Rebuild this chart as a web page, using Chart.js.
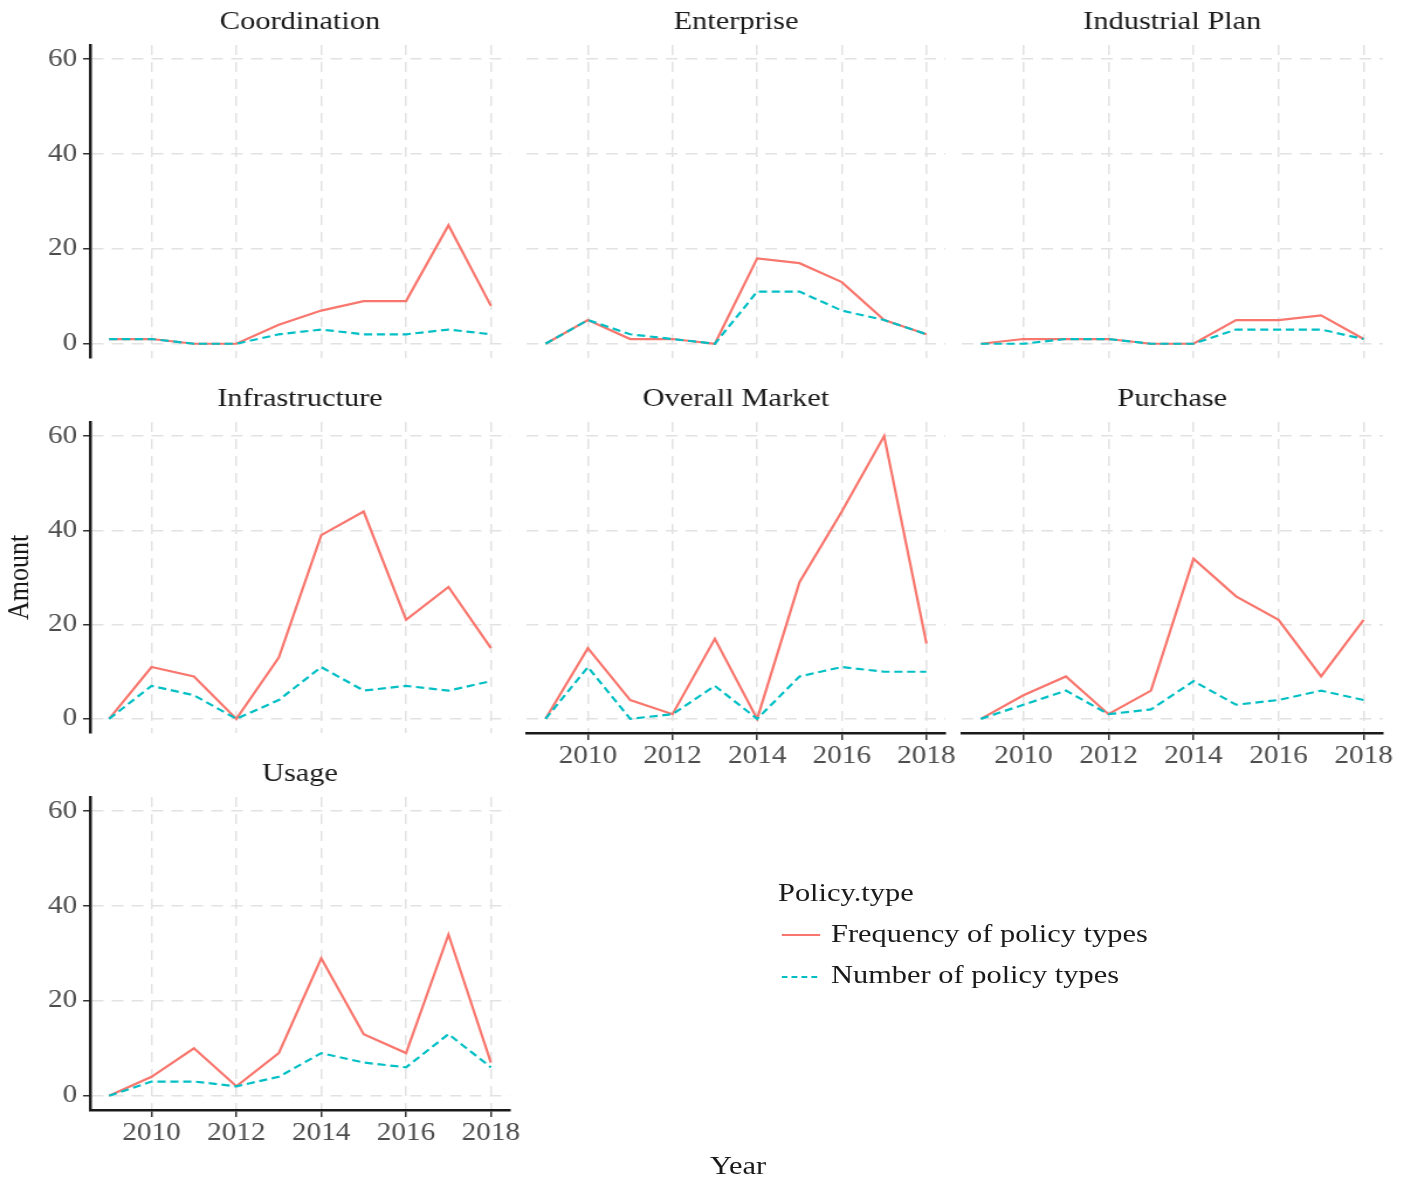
<!DOCTYPE html>
<html>
<head>
<meta charset="utf-8">
<script src="https://cdn.jsdelivr.net/npm/chart.js@4.4.0/dist/chart.umd.min.js"></script>
<style>
  html, body { margin: 0; background: #fff; }
  /* the whole figure is drawn narrow and stretched sideways */
  #page {
    position: relative; width: 1200px; height: 1181px;
    transform: scaleX(1.17); transform-origin: 0 0;
    font-family: "Liberation Serif", "Times New Roman", serif;
  }
  #page canvas { position: absolute; }
  .txt { position: absolute; color: #1a1a1a; font-size: 26px; line-height: 26px; white-space: nowrap; }
</style>
</head>
<body>
<div id="page">
  <div class="txt" id="xtitle" style="left:630.8px; top:1153px; transform:translateX(-50%);">Year</div>
</div>
<script>
const years = [2009, 2010, 2011, 2012, 2013, 2014, 2015, 2016, 2017, 2018];
const xTicks = [2010, 2012, 2014, 2016, 2018];
const yTicks = [0, 20, 40, 60];
const legendTitle = 'Policy.type';
const seriesNames = ['Frequency of policy types', 'Number of policy types'];
const facetNames = ['Coordination', 'Enterprise', 'Industrial Plan', 'Infrastructure', 'Overall Market', 'Purchase', 'Usage'];

const coordinationFreq = [1, 1, 0, 0, 4, 7, 9, 9, 25, 8];
const coordinationNum = [1, 1, 0, 0, 2, 3, 2, 2, 3, 2];
const enterpriseFreq = [0, 5, 1, 1, 0, 18, 17, 13, 5, 2];
const enterpriseNum = [0, 5, 2, 1, 0, 11, 11, 7, 5, 2];
const industrialFreq = [0, 1, 1, 1, 0, 0, 5, 5, 6, 1];
const industrialNum = [0, 0, 1, 1, 0, 0, 3, 3, 3, 1];
const infrastructureFreq = [0, 11, 9, 0, 13, 39, 44, 21, 28, 15];
const infrastructureNum = [0, 7, 5, 0, 4, 11, 6, 7, 6, 8];
const marketFreq = [0, 15, 4, 1, 17, 0, 29, 44, 60, 16];
const marketNum = [0, 11, 0, 1, 7, 0, 9, 11, 10, 10];
const purchaseFreq = [0, 5, 9, 1, 6, 34, 26, 21, 9, 21];
const purchaseNum = [0, 3, 6, 1, 2, 8, 3, 4, 6, 4];
const usageFreq = [0, 4, 10, 2, 9, 29, 13, 9, 34, 7];
const usageNum = [0, 3, 3, 2, 4, 9, 7, 6, 13, 6];

const facetFreq = [coordinationFreq, enterpriseFreq, industrialFreq, infrastructureFreq, marketFreq, purchaseFreq, usageFreq];
const facetNum = [coordinationNum, enterpriseNum, industrialNum, infrastructureNum, marketNum, purchaseNum, usageNum];

const S = 1.17;
const FONT = '"Liberation Serif", "Times New Roman", serif';
const RED = '#F8766D';
const CYAN = '#00BFC4';
const GRID = '#e2e2e2';

// facet grid geometry (panel edges)
const colLeft = [90, 527, 962].map(v => v / S);
const colRight = [510, 946, 1383].map(v => v / S);
const rowTop = [45, 422, 797];
const rowBottom = [358, 733, 1110];

// ggplot-style 5% expansion on both axes, shared by all facets
const allValues = facetFreq.concat(facetNum).flat();
const yMax = Math.max(...allValues);
const yPad = 0.05 * yMax;
const xPad = 0.05 * (years[years.length - 1] - years[0]);

const page = document.getElementById('page');

function drawPanel(i) {
  const row = Math.floor(i / 3), col = i % 3;
  const hasY = col === 0;
  const hasX = i + 3 >= facetNames.length;
  const titleH = 36;
  const padL = hasY ? 0 : 10;
  const padB = hasX ? 4 : 20;
  const yAxisW = hasY ? colLeft[0] : 0;
  const xAxisH = hasX ? 50 : 0;
  const left = hasY ? 0 : colLeft[col] - padL;
  const top = rowTop[row] - titleH;

  const canvas = document.createElement('canvas');
  canvas.width = Math.ceil(colRight[col] - left + 30);
  canvas.height = rowBottom[row] + xAxisH + padB - top;
  const padR = canvas.width - (colRight[col] - left);
  canvas.style.left = left + 'px';
  canvas.style.top = top + 'px';
  page.appendChild(canvas);

  new Chart(canvas, {
    type: 'line',
    data: {
      datasets: [{
        label: seriesNames[0],
        data: years.map((x, k) => ({ x: x, y: facetFreq[i][k] })),
        borderColor: RED,
        borderWidth: 2.2,
        pointRadius: 0,
        tension: 0,
        order: 1,
      }, {
        label: seriesNames[1],
        data: years.map((x, k) => ({ x: x, y: facetNum[i][k] })),
        borderColor: CYAN,
        borderWidth: 2.2,
        borderDash: [7, 4],
        pointRadius: 0,
        tension: 0,
        order: 0,
      }],
    },
    options: {
      responsive: false,
      animation: false,
      layout: { padding: { left: padL, right: padR, top: 0, bottom: padB } },
      plugins: {
        legend: { display: false },
        tooltip: { enabled: false },
        title: {
          display: true,
          text: facetNames[i],
          fullSize: false,
          color: '#1a1a1a',
          font: { family: FONT, size: 26, weight: 'normal', lineHeight: 1 },
          padding: { top: 0, bottom: 10 },
        },
      },
      scales: {
        x: {
          type: 'linear',
          min: years[0] - xPad,
          max: years[years.length - 1] + xPad,
          afterBuildTicks: s => { s.ticks = xTicks.map(v => ({ value: v })); },
          afterFit: s => { s.height = xAxisH; },
          grid: { color: GRID, lineWidth: 1.5, drawTicks: hasX, tickLength: 7, tickColor: '#333', tickWidth: 1.5, tickBorderDash: [] },
          border: { display: hasX, color: '#1a1a1a', width: 2.5, dash: [10, 7] },
          ticks: {
            display: hasX, color: '#4d4d4d', padding: 1, maxRotation: 0, autoSkip: false,
            font: { family: FONT, size: 25 },
            callback: v => String(v),
          },
        },
        y: {
          min: -yPad,
          max: yMax + yPad,
          afterBuildTicks: s => { s.ticks = yTicks.map(v => ({ value: v })); },
          afterFit: s => { s.width = yAxisW; },
          grid: { color: GRID, lineWidth: 1.5, drawTicks: hasY, tickLength: 6, tickColor: '#333', tickWidth: 1.5, tickBorderDash: [] },
          border: { display: hasY, color: '#1a1a1a', width: 2.5, dash: [10, 7] },
          ticks: {
            display: hasY, color: '#4d4d4d', padding: 5,
            font: { family: FONT, size: 25 },
            callback: v => String(v),
          },
          title: {
            display: i === 3,
            text: 'Amount',
            color: '#1a1a1a',
            font: { family: FONT, size: 26, lineHeight: 1 },
            padding: { top: 4, bottom: 0 },
          },
        },
      },
    },
  });
}

facetNames.forEach((_, i) => drawPanel(i));

// legend for the two line types
function addText(text, x, baseline) {
  const d = document.createElement('div');
  d.className = 'txt';
  d.textContent = text;
  d.style.left = x + 'px';
  d.style.top = (baseline - 21.8) + 'px';
  page.appendChild(d);
}
function addKey(color, dash, y) {
  const ns = 'http://www.w3.org/2000/svg';
  const svg = document.createElementNS(ns, 'svg');
  svg.setAttribute('width', '34');
  svg.setAttribute('height', '10');
  svg.style.position = 'absolute';
  svg.style.left = (782 / S) + 'px';
  svg.style.top = (y - 5) + 'px';
  const line = document.createElementNS(ns, 'line');
  line.setAttribute('x1', '0');
  line.setAttribute('x2', '33');
  line.setAttribute('y1', '5');
  line.setAttribute('y2', '5');
  line.setAttribute('stroke', color);
  line.setAttribute('stroke-width', '2.2');
  if (dash) line.setAttribute('stroke-dasharray', dash);
  svg.appendChild(line);
  page.appendChild(svg);
}
addText(legendTitle, 778 / S, 902);
addKey(RED, null, 935);
addText(seriesNames[0], 831 / S, 943);
addKey(CYAN, '5 3.5', 977);
addText(seriesNames[1], 831 / S, 984);
</script>
</body>
</html>
